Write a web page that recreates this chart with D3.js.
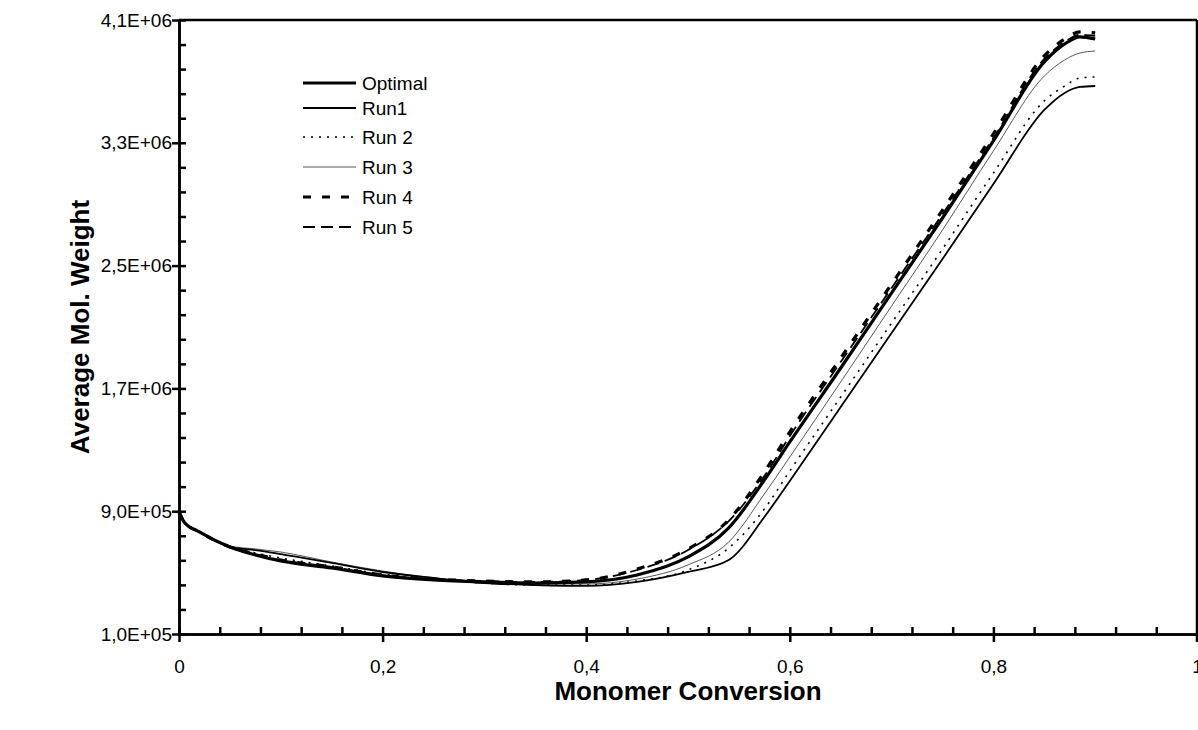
<!DOCTYPE html>
<html>
<head>
  <meta charset="utf-8">
  <script src="https://d3js.org/d3.v7.min.js"></script>
  <style>
  body {
    margin: 0;
    background: #fff;
  }
  svg {
    display: block;
    font-family: "Liberation Sans", Arial, sans-serif;
  }
  .axis path, .axis line {
    stroke: #000;
    stroke-width: 2.5;
  }
  .axis text {
    font-size: 19px;
    fill: #000;
  }
  .title {
    font-size: 26px;
    font-weight: bold;
  }
  .legend text {
    font-size: 19px;
  }
</style>
</head>
<body>
<script>

  // monomer conversion (x) shared by all runs
  var conversion = [0, 0.005, 0.02, 0.05, 0.075, 0.1, 0.15, 0.2, 0.25, 0.3, 0.35, 0.4, 0.45,
                    0.5, 0.54, 0.575, 0.6, 0.65, 0.7, 0.75, 0.8, 0.85, 0.87, 0.885, 0.9];

  // average molecular weight of each run
  var optimal = [895000, 830000, 765000, 667000, 615000, 576000, 530000, 478000, 452000, 439000, 432000, 439000, 484000,
                 602000, 791000, 1103000, 1351000, 1833000, 2322000, 2810000, 3312000, 3827000, 3944000, 3990000, 3976000];
  var run1 = [895000, 830000, 765000, 667000, 647000, 621000, 563000, 504000, 465000, 432000, 419000, 413000, 439000,
              504000, 582000, 862000, 1097000, 1579000, 2061000, 2543000, 3032000, 3514000, 3625000, 3664000, 3670000];
  var run2 = [895000, 830000, 765000, 667000, 628000, 595000, 543000, 491000, 458000, 432000, 419000, 419000, 445000,
              517000, 660000, 914000, 1162000, 1644000, 2126000, 2608000, 3103000, 3573000, 3670000, 3722000, 3729000];
  var run3 = [895000, 830000, 765000, 673000, 654000, 634000, 569000, 510000, 465000, 439000, 426000, 426000, 458000,
              550000, 699000, 1012000, 1253000, 1742000, 2237000, 2732000, 3247000, 3735000, 3840000, 3885000, 3898000];
  var run4 = [895000, 830000, 765000, 667000, 621000, 582000, 537000, 484000, 458000, 445000, 439000, 452000, 523000,
              654000, 843000, 1155000, 1416000, 1898000, 2380000, 2862000, 3358000, 3866000, 3976000, 4022000, 4016000];
  var run5 = [895000, 830000, 765000, 667000, 621000, 582000, 537000, 484000, 458000, 445000, 439000, 452000, 517000,
              647000, 836000, 1129000, 1390000, 1872000, 2354000, 2836000, 3331000, 3846000, 3957000, 4003000, 3996000];

  var seriesNames = ["Optimal", "Run1", "Run 2", "Run 3", "Run 4", "Run 5"];

  // axis ticks
  var xTicks = [0, 0.2, 0.4, 0.6, 0.8, 1];
  var xTickLabels = ["0", "0,2", "0,4", "0,6", "0,8", "1"];
  var yTicks = [100000, 900000, 1700000, 2500000, 3300000, 4100000];
  var yTickLabels = ["1,0E+05", "9,0E+05", "1,7E+06", "2,5E+06", "3,3E+06", "4,1E+06"];

  var styles = [
    {width: 3.2, dash: null, color: "#000"},
    {width: 1.8, dash: null, color: "#000"},
    {width: 1.6, dash: "2,6", color: "#000"},
    {width: 0.9, dash: null, color: "#444"},
    {width: 3.2, dash: "8,11", color: "#000"},
    {width: 1.8, dash: "12,6", color: "#000"}
  ];

  var margin = {top: 20, right: 1, bottom: 96, left: 179},
    width = 1198 - margin.left - margin.right,
    height = 730 - margin.top - margin.bottom;

  var svg = d3.select("body").append("svg")
    .attr("width", 1198)
    .attr("height", 730);

  var g = svg.append("g")
    .attr("transform", "translate(" + margin.left + "," + margin.top + ")");

  var x = d3.scaleLinear().domain([0, 1]).range([0, width]);
  var y = d3.scaleLinear().domain([100000, 4100000]).range([height, 0]);

  var xMinor = d3.range(0, 1.0001, 0.04);
  var yMinor = d3.range(100000, 4100001, 160000);

  // frame (top and right)
  g.append("line").attr("x1", 0).attr("x2", width).attr("y1", 0).attr("y2", 0)
    .attr("stroke", "#000").attr("stroke-width", 2.5);
  g.append("line").attr("x1", width).attr("x2", width).attr("y1", 0).attr("y2", height + 8)
    .attr("stroke", "#000").attr("stroke-width", 2.5);

  // x axis: major ticks crossing, minor inside
  var xg = g.append("g")
    .attr("class", "x axis")
    .attr("transform", "translate(0," + height + ")")
    .call(d3.axisBottom(x).tickValues(xTicks).tickSize(8).tickSizeOuter(0)
      .tickFormat((d, i) => xTickLabels[i]));
  xg.selectAll("text").attr("dy", "1.45em");
  g.append("g")
    .attr("class", "x axis")
    .attr("transform", "translate(0," + height + ")")
    .call(d3.axisBottom(x).tickValues(xMinor).tickSize(-7).tickSizeOuter(0).tickFormat(""));

  // y axis
  var yg = g.append("g")
    .attr("class", "y axis")
    .call(d3.axisLeft(y).tickValues(yTicks).tickSize(7).tickSizeOuter(0)
      .tickFormat((d, i) => yTickLabels[i]));
  yg.selectAll("text").attr("x", -7);
  g.append("g")
    .attr("class", "y axis")
    .call(d3.axisLeft(y).tickValues(yMinor).tickSize(-7).tickSizeOuter(0).tickFormat(""));

  g.selectAll(".axis .domain").attr("stroke-width", 2.5);

  // curves
  var runs = [optimal, run1, run2, run3, run4, run5];
  var line = d3.line()
    .x((d, i) => x(conversion[i]))
    .y(d => y(d))
    .curve(d3.curveMonotoneX);

  // draw thin ones first so the thick ones sit on top
  [3, 2, 1, 5, 0, 4].forEach(k => {
    g.append("path")
      .datum(runs[k])
      .attr("fill", "none")
      .attr("stroke", styles[k].color)
      .attr("stroke-width", styles[k].width)
      .attr("stroke-dasharray", styles[k].dash)
      .attr("d", line);
  });

  // legend
  var legendY = [83, 108, 137, 167, 197, 227];
  var legend = svg.append("g").attr("class", "legend");
  seriesNames.forEach((name, k) => {
    legend.append("line")
      .attr("x1", 303).attr("x2", 356)
      .attr("y1", legendY[k]).attr("y2", legendY[k])
      .attr("stroke", styles[k].color)
      .attr("stroke-width", styles[k].width)
      .attr("stroke-dasharray", styles[k].dash);
    legend.append("text")
      .attr("x", 362).attr("y", legendY[k])
      .attr("dy", "0.35em")
      .text(name);
  });

  // titles
  svg.append("text")
    .attr("class", "title")
    .attr("x", 688).attr("y", 700)
    .attr("text-anchor", "middle")
    .text("Monomer Conversion");

  svg.append("text")
    .attr("class", "title")
    .attr("transform", "translate(89,327) rotate(-90)")
    .attr("text-anchor", "middle")
    .text("Average Mol. Weight");

</script>
</body>
</html>
